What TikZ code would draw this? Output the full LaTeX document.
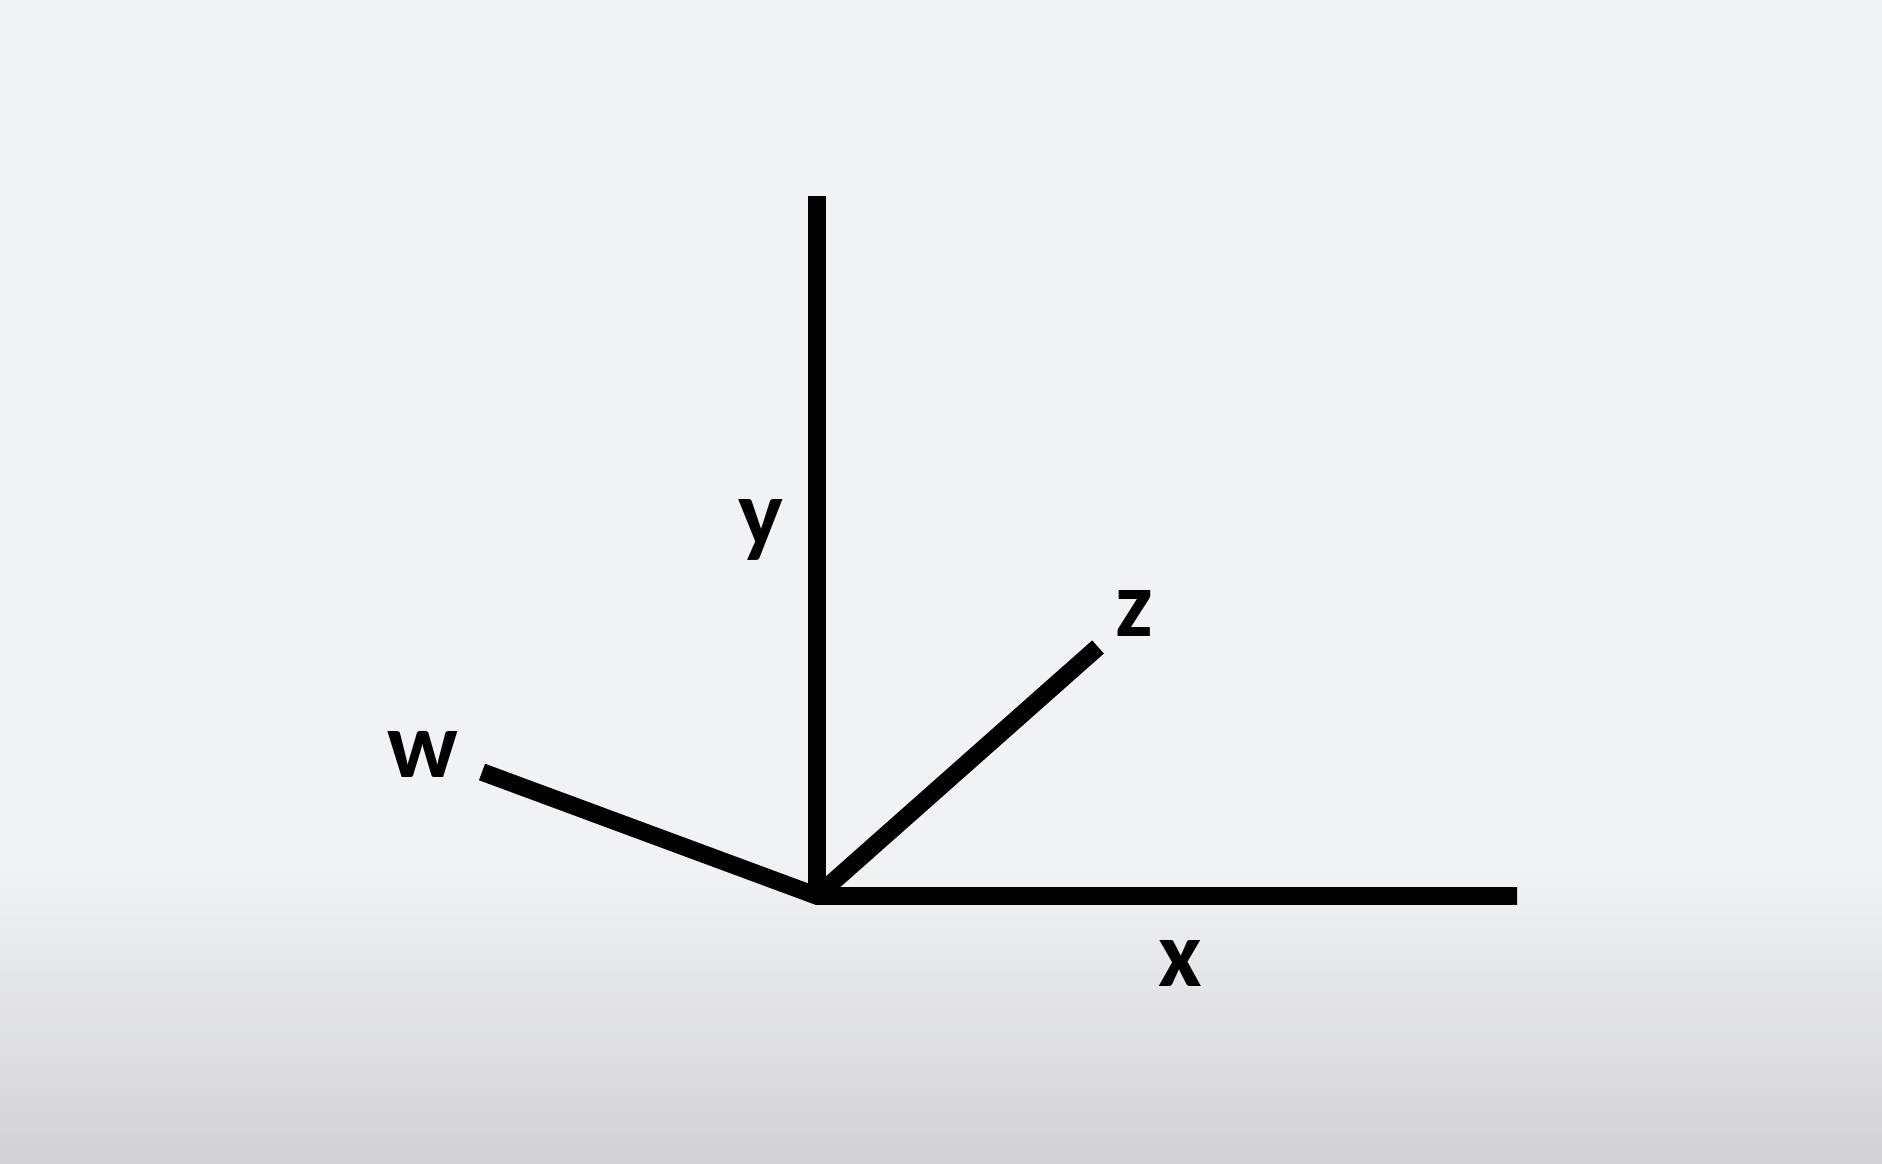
\documentclass[tikz,border=0pt]{standalone}
\usepackage{fontspec}
\setmainfont{Carlito}
\usepackage{tikz}
\usetikzlibrary{calc}
\definecolor{bgtop}{HTML}{F1F2F4}
\definecolor{bgbot}{HTML}{D2D2D4}

\begin{document}
\begin{tikzpicture}[
    axis/.style={line width=5pt, draw=black, line cap=butt, line join=miter},
    lbl/.style={font=\fontsize{27}{30}\selectfont\bfseries, anchor=base, inner sep=0pt}
  ]
    %--- Background ---
    \fill[bgtop] (0,0) rectangle (18.82,11.64);
    \shade[top color=bgtop, bottom color=bgbot] (0,0) rectangle (18.82,3.0);
    \useasboundingbox (0,0) rectangle (18.82,11.64);

    %--- Axis end points ---
    \coordinate (o)  at (8.17,2.68);
    \coordinate (ye) at (8.17,9.68);
    \coordinate (xe) at (15.17,2.68);
    \coordinate (ze) at (10.98,5.17);
    \coordinate (we) at (4.82,3.92);

    %--- Labels ---
    \node[lbl] (ly) at (7.61,6.18) {y};
    \node[lbl] (lz) at (11.34,5.27) {z};
    \node[lbl] (lw) at (4.23,3.86) {w};
    \node[lbl] (lx) at (11.80,1.77) {x};

    %--- Axes ---
    \draw[axis] (o) -- (ye);
    \draw[axis] (o) -- (ze);
    \draw[axis] (we) -- (o) -- (xe);
  \end{tikzpicture}
\end{document}
